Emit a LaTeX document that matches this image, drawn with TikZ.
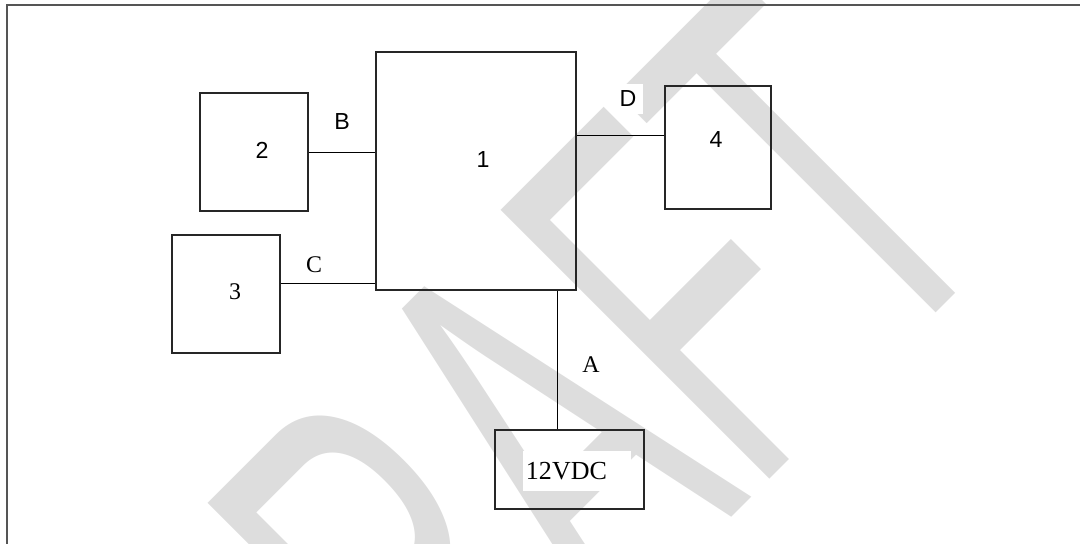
\documentclass[tikz,border=0pt]{standalone}
\usepackage{fontspec}
\setmainfont{Liberation Serif}
\setsansfont{Liberation Sans}
\usepackage{graphicx}
\definecolor{wmgray}{RGB}{221,221,221}
\definecolor{framegray}{RGB}{85,85,85}
\tikzset{
    unit/.style={
           rectangle,
           draw=black!85, line width=1pt,
           inner sep=0pt
           },
    sanstag/.style={font=\fontsize{16.5}{18}\sffamily\selectfont, inner sep=1pt},
    seriftag/.style={font=\fontsize{17}{19}\selectfont, inner sep=1pt},
    wire/.style={black, line width=0.7pt},
    watermark/.style={wmgray, inner sep=0pt,
           font=\fontsize{393}{393}\sffamily\selectfont},
}
\begin{document}
\begin{tikzpicture}[x=0.025cm,y=-0.025cm]
    \useasboundingbox (0,0) rectangle (1080,544);

    % draft watermark behind everything
    \begin{scope}
        \clip (0,0) rectangle (1080,544);
        \node[watermark, rotate=45] (draft) at (524,456) {\scalebox{0.54}[1]{DRAFT}};
    \end{scope}

    % page frame
    \draw[framegray, line width=1.3pt] (7,544) -- (7,5) -- (1080,5);

    % boxes
    \node[unit, minimum width=5cm, minimum height=5.95cm] (main) at (476,171) {};
    \node[unit, minimum width=2.7cm, minimum height=2.95cm] (two) at (254,152) {};
    \node[unit, minimum width=2.7cm, minimum height=2.95cm] (three) at (226,294) {};
    \node[unit, minimum width=2.65cm, minimum height=3.075cm] (four) at (718,147.5) {};
    \node[unit, minimum width=3.725cm, minimum height=1.975cm] (supply) at (569.5,469.5) {};

    % box texts
    \node[sanstag] (mainlbl) at (483,160) {1};
    \node[sanstag] (twolbl) at (262,150) {2};
    \node[seriftag] (threelbl) at (235,292) {3};
    \node[sanstag] (fourlbl) at (716,140) {4};
    \node[seriftag, font=\fontsize{18.5}{20}\selectfont, fill=white,
          text width=2.55cm, align=left, inner xsep=2pt,
          minimum height=1cm] (supplylbl) at (577,471) {12VDC};

    % connections
    \draw[wire] (two.east) -- (two.east -| main.west);
    \draw[wire] (three.east) ++(0,-11) coordinate (cthree) -- (cthree -| main.west);
    \draw[wire] (four.west) ++(0,-12.5) coordinate (cfour) -- (cfour -| main.east);
    \draw[wire] (supply.north) ++(-12.5,0) coordinate (csupply) -- (csupply |- main.south);

    % connection names
    \node[sanstag] (lblB) at (342,122) {B};
    \node[seriftag] (lblC) at (314,265) {C};
    \node[sanstag, fill=white, inner sep=5pt] (lblD) at (628,99) {D};
    \node[seriftag, fill=white, inner sep=6pt] (lblA) at (591,365) {A};
\end{tikzpicture}
\end{document}
